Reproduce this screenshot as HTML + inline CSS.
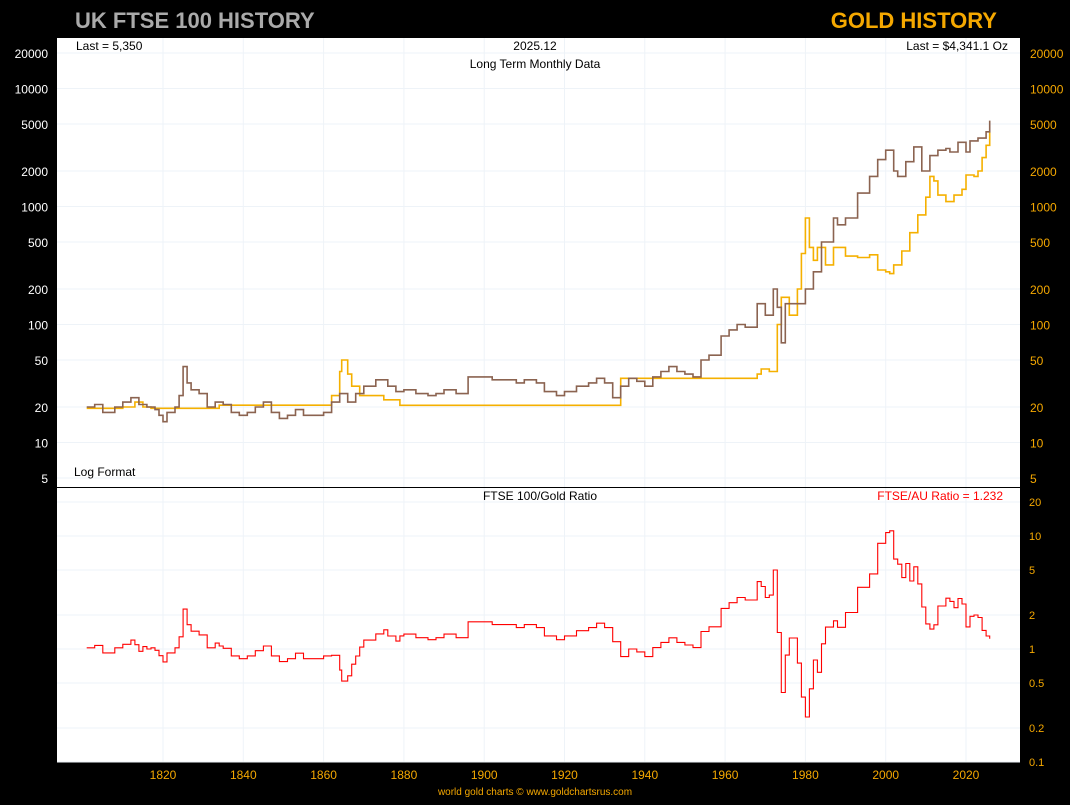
<!DOCTYPE html>
<html><head><meta charset="utf-8"><style>
body{margin:0;background:#000;width:1070px;height:800px;overflow:hidden;font-family:"Liberation Sans",sans-serif}
</style></head><body>
<svg id="c" width="1070" height="800" xmlns="http://www.w3.org/2000/svg">
<rect x="0" y="0" width="1070" height="800" fill="#000"/>
<rect x="57" y="38" width="963" height="724" fill="#fff"/>
<text x="75" y="28" font-size="22" font-weight="bold" fill="#aaa">UK FTSE 100 HISTORY</text>
<text x="997" y="28" font-size="22" font-weight="bold" fill="#f5a800" text-anchor="end">GOLD HISTORY</text>
<g id="grid"></g>
<line x1="57" y1="487.5" x2="1020" y2="487.5" stroke="#000" stroke-width="1"/>
<text x="76" y="50" font-size="12">Last = 5,350</text>
<text x="535" y="50" font-size="12" text-anchor="middle">2025.12</text>
<text x="535" y="68" font-size="12" text-anchor="middle">Long Term Monthly Data</text>
<text x="1008" y="50" font-size="12" text-anchor="end">Last = $4,341.1 Oz</text>
<text x="74" y="476" font-size="12">Log Format</text>
<text x="540" y="500" font-size="12" text-anchor="middle">FTSE 100/Gold Ratio</text>
<text x="1003" y="500" font-size="12" fill="#f00" text-anchor="end">FTSE/AU Ratio = 1.232</text>
<text x="535" y="795" font-size="10" fill="#f5a800" text-anchor="middle">world gold charts © www.goldchartsrus.com</text>
<g id="axes"></g><g id="series"></g>
</svg>
<script>
const topTicks=[5,10,20,50,100,200,500,1000,2000,5000,10000,20000];
const botTicks=[0.1,0.2,0.5,1,2,5,10,20];
const xTicks=[1820,1840,1860,1880,1900,1920,1940,1960,1980,2000,2020];
const ftseYears=[1801,1803,1805,1808,1810,1812,1814,1816,1818,1819,1820,1821,1823,1824,1825,1826,1827,1829,1831,1833,1835,1837,1839,1841,1843,1845,1847,1849,1851,1853,1855,1857,1860,1862,1864,1866,1868,1870,1873,1876,1878,1880,1883,1886,1888,1890,1893,1896,1899,1902,1905,1908,1910,1913,1915,1918,1920,1923,1926,1928,1930,1932,1934,1936,1938,1940,1942,1944,1946,1948,1950,1952,1954,1956,1958,1959,1961,1963,1965,1968,1970,1972,1973,1974,1975,1977,1980,1982,1984,1987,1988,1990,1993,1996,1998,2000,2002,2003,2005,2007,2009,2011,2013,2015,2016,2018,2020,2021,2023,2025,2025.9];
const ftseValues=[20,21,18,20,22,24,21,20,19,17,15,18,20,25,44,32,28,26,20,22,21,18,17,18,20,22,18,16,17,19,17,17,18,22,26,22,26,30,34,30,27,28,26,25,26,28,26,36,36,34,34,32,34,32,27,25,27,30,32,35,32,24,30,35,33,30,36,40,44,40,38,36,50,55,55,80,90,100,95,150,120,200,140,70,150,150,200,280,500,800,700,800,1300,1800,2500,3000,2000,1800,2400,3200,2000,2700,3000,3100,2900,3500,2900,3600,3800,4300,5350];
const goldYears=[1801,1808,1810,1813,1815,1817,1834,1861,1862,1864,1864.5,1866,1867,1869,1875,1879,1933,1934,1967,1968,1969,1971,1973,1974,1976,1978,1979,1980,1981,1982,1983,1985,1987,1990,1993,1996,1998,2000,2001,2002,2004,2006,2008,2010,2011,2012,2013,2015,2017,2019,2020,2022,2023,2024,2025,2025.9];
const goldValues=[19.5,19.5,20,22,20,19.5,20.7,20.7,25,40,50,38,30,25,23,20.67,20.67,35,35,38,42,40,100,170,120,200,400,800,450,350,450,320,450,380,370,390,290,280,270,320,420,600,850,1200,1800,1650,1250,1100,1250,1400,1850,1800,2000,2600,3300,4341];
const X=y=>163+(y-1820)*4.015;
const YT=v=>53+(Math.log10(20000)-Math.log10(v))*118;
const YB=v=>649-Math.log10(v)*113;
const NS="http://www.w3.org/2000/svg";
function mk(t,a,p){const e=document.createElementNS(NS,t);for(const k in a)e.setAttribute(k,a[k]);p.appendChild(e);return e;}
const grid=document.getElementById('grid'),axes=document.getElementById('axes'),ser=document.getElementById('series');
topTicks.forEach(v=>{const y=YT(v);
 const g=mk('line',{x1:57,x2:1020,y1:y,y2:y,stroke:'#eef3f8'},grid);
 
 
 const l=mk('text',{x:48,y:y+5,'font-size':12,fill:'#fff','text-anchor':'end'},axes);l.textContent=v;
 
 
 const r=mk('text',{x:1030,y:y+5,'font-size':12,fill:'#f5a800'},axes);r.textContent=v;
 
 
});
botTicks.forEach(v=>{const y=YB(v);
 const g=mk('line',{x1:57,x2:1020,y1:y,y2:y,stroke:'#eef3f8'},grid);
 
 
 const r=mk('text',{x:1029,y:y+4,'font-size':11,fill:'#f5a800'},axes);r.textContent=v;
 
 
});
xTicks.forEach(v=>{const x=X(v);
 const g=mk('line',{x1:x,x2:x,y1:38,y2:762,stroke:'#eef3f8'},grid);
 
 
 const t=mk('text',{x:x,y:779,'font-size':12,fill:'#f5a800','text-anchor':'middle'},axes);t.textContent=v;
 
 
});
function interp(ys,vs,yr){if(yr<=ys[0])return vs[0];for(let i=1;i<ys.length;i++)if(yr<ys[i])return vs[i-1];return vs[vs.length-1];}
function step(ys,vs,fy){let d='';for(let i=0;i<ys.length;i++){const x=X(ys[i]).toFixed(1),y=fy(vs[i]).toFixed(1);if(i==0)d+='M'+x+' '+y;else d+=' H'+x+' V'+y;}return d;}
const gp=mk('path',{d:step(goldYears,goldValues,YT),fill:'none',stroke:'#f5b000','stroke-width':1.6},ser);


const fp=mk('path',{d:step(ftseYears,ftseValues,YT),fill:'none',stroke:'#8b6350','stroke-width':1.6},ser);


const allYears=[...new Set([...ftseYears,...goldYears])].sort((a,b)=>a-b);
const ratioValues=allYears.map(yr=>interp(ftseYears,ftseValues,yr)/interp(goldYears,goldValues,yr));
const rp=mk('path',{d:step(allYears,ratioValues,YB),fill:'none',stroke:'#f00','stroke-width':1.1},ser);


</script>
</body></html>
